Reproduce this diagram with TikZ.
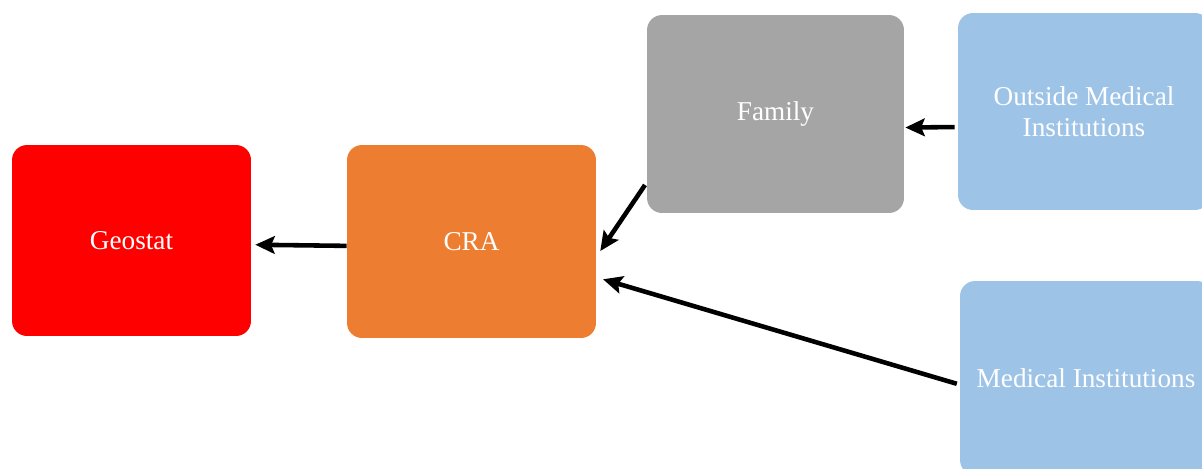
\documentclass[tikz,border=0pt]{standalone}
\usepackage{fontspec}
\setmainfont{Liberation Serif}
\usetikzlibrary{arrows.meta}

\definecolor{geored}{HTML}{FF0000}
\definecolor{craorange}{HTML}{ED7D31}
\definecolor{famgray}{HTML}{A5A5A5}
\definecolor{medblue}{HTML}{9DC3E6}

\begin{document}
\begin{tikzpicture}[x=0.02cm,y=-0.02cm,
    box/.style={rounded corners=0.3cm,text=white,align=center,inner sep=0pt,
      font=\fontsize{15.5}{18}\selectfont},
    link/.style={-{Stealth[length=11pt,width=10pt,inset=2pt]},line width=2.6pt}]
  \useasboundingbox (0,0) rectangle (1202,468);
  \clip (0,0) rectangle (1202,468);
  \node[box,fill=geored,minimum width=4.78cm,minimum height=3.82cm] (geostat) at (131.5,240.5) {Geostat};
  \node[box,fill=craorange,minimum width=4.98cm,minimum height=3.86cm] (cra) at (471.5,241.5) {CRA};
  \node[box,fill=famgray,minimum width=5.14cm,minimum height=3.96cm] (family) at (775.5,114) {Family};
  \node[box,fill=medblue,minimum width=5.04cm,minimum height=3.94cm] (outside) at (1084,111.5) {Outside Medical\\Institutions};
  \node[box,fill=medblue,minimum width=5.04cm,minimum height=3.88cm] (medical) at (1086,378) {Medical Institutions};
  %arrows
  \draw[link,shorten >=0.08cm] (cra.182) -- (geostat.-2);
  \draw[link,shorten <=0.06cm,shorten >=0.14cm] (family.208) -- (cra.-7);
  \draw[link,shorten <=0.06cm,shorten >=0.14cm] (medical.183) -- (cra.-16);
  \draw[link,shorten <=0.06cm,shorten >=0.02cm] (outside.187) -- (family.-6);
\end{tikzpicture}
\end{document}
